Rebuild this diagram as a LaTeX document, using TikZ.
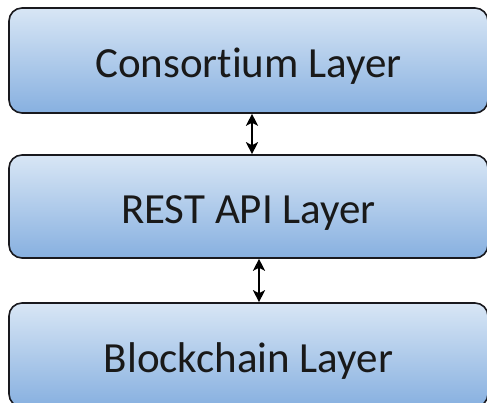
\documentclass[tikz,border=0pt]{standalone}
\usepackage{fontspec}
\setmainfont{Carlito}[Ligatures=NoCommon]
\usetikzlibrary{arrows.meta,calc}
\definecolor{boxtop}{RGB}{216,230,245}
\definecolor{boxbot}{RGB}{135,176,224}
\definecolor{boxline}{RGB}{25,25,30}
\tikzset{
  layerbox/.style={draw=boxline, line width=1.6pt, rounded corners=13pt,
    top color=boxtop, bottom color=boxbot, minimum width=479pt,
    inner sep=0pt, font=\fontsize{43}{50}\selectfont, text=black!90,
    text height=45.5pt, text depth=10.5pt},
  tipshape/.style={},
  link/.style={line width=2pt, draw=black,
    {Stealth[length=12pt,width=12pt,inset=3pt]}-{Stealth[length=12pt,width=12pt,inset=3pt]}}
}
\begin{document}
\begin{tikzpicture}[x=1pt,y=1pt]
\useasboundingbox (0,0) rectangle (487,403);
\node[layerbox, minimum height=105pt] (cons) at (248.5,342.5) {Consortium Layer};
\node[layerbox, minimum height=103pt] (rest) at (248.5,196.5) {REST API Layer};
\node[layerbox, minimum height=104pt] (chain) at (248.5,48) {Blockchain Layer};
\coordinate (x1) at (252,0);
\coordinate (x2) at (259,0);
\draw[link] (cons.south -| x1) -- (rest.north -| x1);
\draw[link] (rest.south -| x2) -- (chain.north -| x2);
\end{tikzpicture}
\end{document}
